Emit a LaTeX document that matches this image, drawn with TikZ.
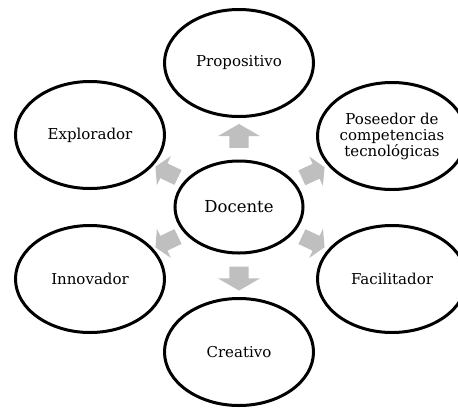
\documentclass[tikz,border=0pt]{standalone}
\usepackage{fontspec}
\setmainfont{DejaVu Serif}
\usetikzlibrary{shapes.geometric,shapes.arrows}

\tikzset{
  rol/.style={ellipse,draw,line width=3pt,fill=white,align=center,
    minimum width=149pt,minimum height=107pt,inner sep=0pt,
    font=\fontsize{15}{16}\selectfont},
  centro/.style={rol,minimum width=128pt,minimum height=92pt,
    font=\fontsize{16.5}{18}\selectfont},
  flecha/.style={single arrow,fill=black!25,draw=none,inner xsep=0pt,
    sloped,allow upside down,single arrow tip angle=120},
  recta/.style={flecha,inner ysep=9.5pt,minimum height=24pt,single arrow head extend=11.5pt},
  diagonal/.style={flecha,inner ysep=8pt,minimum height=25pt,single arrow head extend=8pt}
}

\begin{document}
\begin{tikzpicture}[x=1pt,y=-1pt]
  \useasboundingbox (0,0) rectangle (458,408);
  \path (239,207) node[centro](docente){Docente};
  \path (239,63) node[rol](propositivo){Propositivo}
        (90,135) node[rol](explorador){Explorador}
        (392,136) node[rol](poseedor){Poseedor de\\competencias\\tecnológicas}
        (90,279) node[rol](innovador){Innovador}
        (392,279) node[rol](facilitador){Facilitador}
        (239,352) node[rol](creativo){Creativo};
  \path (docente) -- node[recta]{} (propositivo);
  \path (docente) -- node[recta]{} (creativo);
  \path (docente) -- node[diagonal]{} (explorador);
  \path (docente) -- node[diagonal]{} (poseedor);
  \path (docente) -- node[diagonal]{} (innovador);
  \path (docente) -- node[diagonal]{} (facilitador);
\end{tikzpicture}
\end{document}
